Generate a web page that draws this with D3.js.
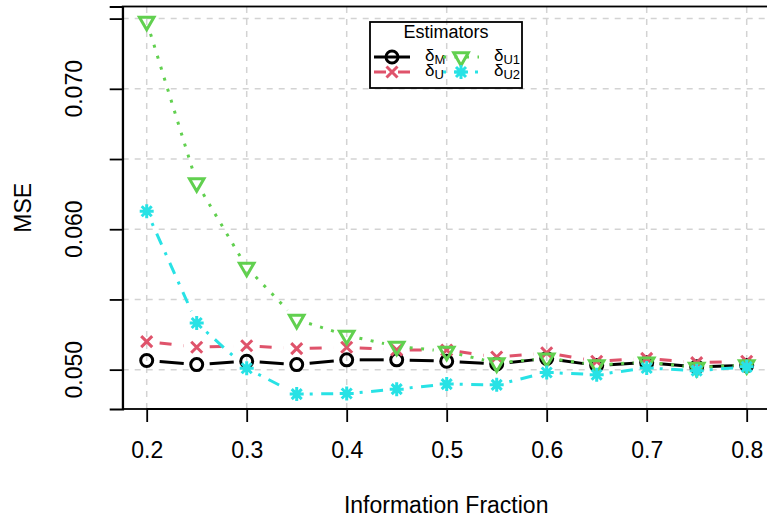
<!DOCTYPE html>
<html>
<head>
<meta charset="utf-8">
<script src="https://cdn.jsdelivr.net/npm/d3@7"></script>
<style>
  body { margin: 0; background: #fff; }
  text { font-family: "Liberation Sans", Arial, Helvetica, sans-serif; }
</style>
</head>
<body>
<div id="chart"></div>
<script>
// information fractions (x) and MSE for each estimator
var fractions = [0.2, 0.25, 0.3, 0.35, 0.4, 0.45, 0.5, 0.55, 0.6, 0.65, 0.7, 0.75, 0.8];
var mseM  = [0.05065, 0.05036, 0.05060, 0.05036, 0.05070, 0.05070, 0.05060, 0.05040, 0.05080, 0.05030, 0.05050, 0.05020, 0.05030];
var mseU  = [0.05200, 0.05160, 0.05170, 0.05150, 0.05160, 0.05140, 0.05140, 0.05090, 0.05120, 0.05060, 0.05080, 0.05050, 0.05060];
var mseU1 = [0.07480, 0.06330, 0.05728, 0.05357, 0.05244, 0.05166, 0.05130, 0.05047, 0.05082, 0.05034, 0.05054, 0.05015, 0.05034];
var mseU2 = [0.06128, 0.05332, 0.05010, 0.04826, 0.04830, 0.04861, 0.04897, 0.04892, 0.04980, 0.04964, 0.05012, 0.04993, 0.05020];
var xTicks = [0.2, 0.3, 0.4, 0.5, 0.6, 0.7, 0.8];
var yTicks = [0.050, 0.055, 0.060, 0.065, 0.070, 0.075];
var yLabels = [0.050, 0.060, 0.070];

var series = [
  {sub: "M",  values: mseM,  color: "#000000", dash: null,          pch: "circle"},
  {sub: "U",  values: mseU,  color: "#DF536B", dash: "12,12",       pch: "cross"},
  {sub: "U1", values: mseU1, color: "#61D04F", dash: "3,8.5",       pch: "triangle"},
  {sub: "U2", values: mseU2, color: "#28E2E5", dash: "3,8.5,12,8.5", pch: "star"}
];

var W = 767, H = 523;
var plot = {left: 122.7, top: 6.5, right: 770.7, bottom: 409};

var svg = d3.select("#chart").append("svg")
    .attr("width", W).attr("height", H);
svg.append("rect").attr("width", W).attr("height", H).attr("fill", "#fff");

// R style 4% padding on the data range
var xExt = d3.extent(fractions);
var xPad = (xExt[1] - xExt[0]) * 0.04;
var x = d3.scaleLinear().domain([xExt[0] - xPad, xExt[1] + xPad]).range([plot.left, plot.right]);
var allY = mseM.concat(mseU, mseU1, mseU2);
var yExt = d3.extent(allY);
var yPad = (yExt[1] - yExt[0]) * 0.04;
var y = d3.scaleLinear().domain([yExt[0] - yPad, yExt[1] + yPad]).range([plot.bottom, plot.top]);

// grid
var grid = svg.append("g").attr("stroke", "#D3D3D3").attr("stroke-width", 1.5)
    .attr("stroke-dasharray", "6,6");
grid.selectAll(".gx").data(xTicks).enter().append("line")
    .attr("x1", d => x(d)).attr("x2", d => x(d))
    .attr("y1", plot.bottom).attr("y2", plot.top);
grid.selectAll(".gy").data(yTicks).enter().append("line")
    .attr("x1", plot.left).attr("x2", plot.right)
    .attr("y1", d => y(d)).attr("y2", d => y(d));

// box
svg.append("rect")
    .attr("x", plot.left).attr("y", plot.top)
    .attr("width", plot.right - plot.left).attr("height", plot.bottom - plot.top)
    .attr("fill", "none").attr("stroke", "#000").attr("stroke-width", 1.8);

// axes
var xAxis = svg.append("g")
    .attr("transform", "translate(0," + plot.bottom + ")")
    .call(d3.axisBottom(x).tickValues(xTicks).tickSize(13).tickPadding(20).tickFormat(d3.format(".1f")));
xAxis.select(".domain").attr("d", "M" + x(0.2) + ",0H" + x(0.8)).attr("stroke-width", 1.8);
xAxis.selectAll(".tick line").attr("stroke-width", 1.8);
xAxis.selectAll(".tick text").attr("font-size", "23px").attr("fill", "#000")
    .attr("font-family", "Liberation Sans, Arial, sans-serif");

var yAxis = svg.append("g")
    .attr("transform", "translate(" + plot.left + ",0)")
    .call(d3.axisLeft(y).tickValues(yTicks).tickSize(13).tickFormat(""));
yAxis.select(".domain").attr("stroke-width", 1.8);
yAxis.selectAll(".tick line").attr("stroke-width", 1.8);

svg.append("g").selectAll("text").data(yLabels).enter().append("text")
    .attr("transform", d => "translate(82," + y(d) + ") rotate(-90)")
    .attr("text-anchor", "middle")
    .attr("font-size", "23px")
    .text(d3.format(".3f"));

// axis titles
svg.append("text")
    .attr("x", (plot.left + 770.7) / 2 - 0.5).attr("y", 513)
    .attr("text-anchor", "middle").attr("font-size", "23px")
    .text("Information Fraction");
svg.append("text")
    .attr("transform", "translate(31," + (plot.top + plot.bottom) / 2 + ") rotate(-90)")
    .attr("text-anchor", "middle").attr("font-size", "23px")
    .text("MSE");

// point symbols
function drawSymbol(g, type, cx, cy, color) {
  var s = g.append("g").attr("transform", "translate(" + cx + "," + cy + ")")
      .attr("stroke", color).attr("stroke-width", 3).attr("fill", "none");
  if (type === "circle") {
    s.append("circle").attr("r", 6);
  } else if (type === "cross") {
    s.append("path").attr("d", "M-5.5,-5.5L5.5,5.5M-5.5,5.5L5.5,-5.5");
  } else if (type === "triangle") {
    var r = 8.4, xc = r * Math.sqrt(3) / 2;
    s.append("path").attr("d", "M0," + r + "L" + xc + "," + (-r / 2) + "L" + (-xc) + "," + (-r / 2) + "Z")
      .attr("stroke-linejoin", "miter");
  } else {
    var a = 7, b = 5;
    s.append("path").attr("d", "M-" + a + ",0H" + a + "M0,-" + a + "V" + a +
      "M-" + b + ",-" + b + "L" + b + "," + b + "M-" + b + "," + b + "L" + b + ",-" + b);
  }
}

// type = "b": line segments with gaps around points
var gap = 13;
series.forEach(function(s) {
  var g = svg.append("g");
  var pts = fractions.map((f, i) => [x(f), y(s.values[i])]);
  for (var i = 0; i < pts.length - 1; i++) {
    var p = pts[i], q = pts[i + 1];
    var dx = q[0] - p[0], dy = q[1] - p[1], len = Math.sqrt(dx * dx + dy * dy);
    if (len <= 2 * gap) continue;
    var ux = dx / len, uy = dy / len;
    g.append("line")
      .attr("x1", p[0] + ux * gap).attr("y1", p[1] + uy * gap)
      .attr("x2", q[0] - ux * gap).attr("y2", q[1] - uy * gap)
      .attr("stroke", s.color).attr("stroke-width", 3)
      .attr("stroke-dasharray", s.dash);
  }
  pts.forEach(p => drawSymbol(g, s.pch, p[0], p[1], s.color));
});

// legend
var leg = svg.append("g");
leg.append("rect").attr("x", 370).attr("y", 22).attr("width", 152).attr("height", 66)
    .attr("fill", "none").attr("stroke", "#000").attr("stroke-width", 1.8);
leg.append("text").attr("x", 446).attr("y", 38).attr("text-anchor", "middle")
    .attr("font-size", "18px").text("Estimators");
var legPos = [[374, 57], [374, 72], [443, 57], [443, 72]];
series.forEach(function(s, i) {
  var lx = legPos[i][0], ly = legPos[i][1];
  leg.append("line").attr("x1", lx).attr("x2", lx + 36).attr("y1", ly).attr("y2", ly)
    .attr("stroke", s.color).attr("stroke-width", 3).attr("stroke-dasharray", s.dash);
  drawSymbol(leg, s.pch, lx + 18, ly, s.color);
  var t = leg.append("text").attr("x", lx + 51).attr("y", ly + 4).attr("font-size", "17px");
  t.append("tspan").text("δ");
  t.append("tspan").attr("dy", 3).attr("font-size", "13px").text(s.sub);
});
</script>
</body>
</html>
